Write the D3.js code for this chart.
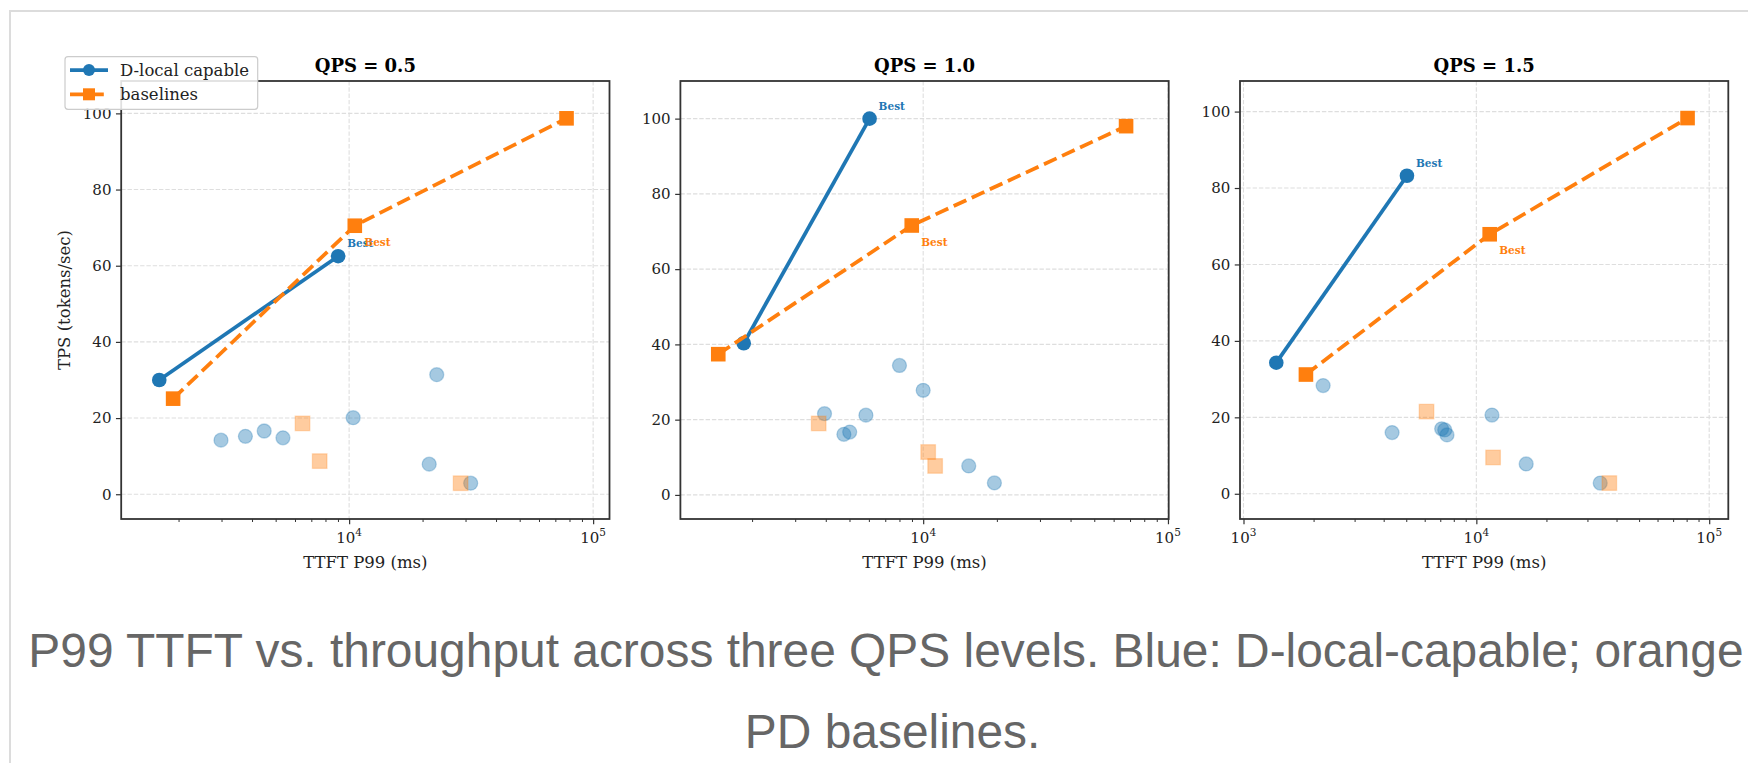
<!DOCTYPE html>
<html><head><meta charset="utf-8">
<script src="https://cdn.jsdelivr.net/npm/d3@7"></script>
<style>html,body{margin:0;padding:0;background:#fff;overflow:hidden} svg{display:block}</style>
</head><body>
<svg id="chart" width="1748" height="763"></svg>
<script>
// ---------- data ----------
const panelTitles = ["QPS = 0.5", "QPS = 1.0", "QPS = 1.5"];
// D-local capable frontier (TTFT P99 ms, TPS)
const dlocalTTFT = [[1667, 9015], [1849, 6040], [1383, 5035]];
const dlocalTPS  = [[30.0, 62.5], [40.3, 100.0], [34.3, 83.2]];
const dlocalBest = [1, 1, 1];
// baselines frontier
const baseTTFT = [[1900, 10550, 77800], [1455, 8980, 67430], [1854, 11410, 80740]];
const baseTPS  = [[25.1, 70.5, 98.7], [37.4, 71.6, 98.0], [31.2, 67.9, 98.3]];
const baseBest = [1, 1, 1];
// other (non-frontier) D-local capable configs
const otherDTTFT = [[2985, 3758, 4487, 5356, 10390, 22860, 21290, 31490],
                    [3953, 4743, 5010, 5835, 8000, 10000, 15350, 19540],
                    [2198, 4347, 7097, 7316, 7480, 11670, 16370, 34040]];
const otherDTPS  = [[14.2, 15.2, 16.6, 14.8, 20.1, 31.4, 7.9, 2.9],
                    [21.6, 16.1, 16.7, 21.2, 34.4, 27.8, 7.7, 3.2],
                    [28.3, 16.0, 17.0, 16.7, 15.4, 20.6, 7.8, 2.8]];
// other (non-frontier) baseline configs
const otherBTTFT = [[6443, 7576, 28640], [3743, 10480, 11190], [6110, 11800, 37240]];
const otherBTPS  = [[18.6, 8.7, 2.9], [19.0, 11.4, 7.7], [21.5, 9.5, 2.8]];
// axis settings
const xDomains = [[1164, 116700], [1019, 100700], [966, 120800]];
const yDomains = [[-6.5, 108.5], [-6.4, 110], [-6.6, 108]];
const yTicks = [0, 20, 40, 60, 80, 100];
const xMajorExps = [3, 4, 5];
const xLabel = "TTFT P99 (ms)";
const yLabel = "TPS (tokens/sec)";
const legendLabels = ["D-local capable", "baselines"];
const bestLabel = "Best";
const captionLines = ["P99 TTFT vs. throughput across three QPS levels. Blue: D-local-capable; orange:",
                      "PD baselines."];

// ---------- layout / style ----------
const BLUE = "#1f77b4", ORANGE = "#ff7f0e";
const SERIF = "'DejaVu Serif', serif";
const panelLeft = [121.2, 680.4, 1240];
const PW = 488.3, TOP = 81, BOTTOM = 519;

const svg = d3.select("#chart");
svg.append("defs").append("clipPath").attr("id", "capclip")
  .append("rect").attr("x", 0).attr("y", 0).attr("width", 1745).attr("height", 763);

// outer frame
svg.append("rect").attr("x", 10).attr("y", 11).attr("width", 1800).attr("height", 800)
  .attr("fill", "none").attr("stroke", "#dcdcdc").attr("stroke-width", 2);

panelTitles.forEach((title, i) => {
  const L = panelLeft[i];
  const x = d3.scaleLog().domain(xDomains[i]).range([L, L + PW]);
  const y = d3.scaleLinear().domain(yDomains[i]).range([BOTTOM, TOP]);
  const g = svg.append("g");
  const [x0, x1] = xDomains[i];
  const majors = xMajorExps.map(e => Math.pow(10, e)).filter(v => v >= x0 && v <= x1);
  const minors = [];
  [2, 3, 4].forEach(e => { for (let m = 2; m <= 9; m++) { const v = m * Math.pow(10, e); if (v >= x0 && v <= x1) minors.push(v); } });

  // grid
  const grid = g.append("g").attr("stroke", "#dedede").attr("stroke-width", 1.1).attr("stroke-dasharray", "4.4,1.9");
  grid.selectAll(".vg").data(majors).join("line")
    .attr("x1", d => x(d)).attr("x2", d => x(d)).attr("y1", TOP).attr("y2", BOTTOM);
  grid.selectAll(".hg").data(yTicks).join("line")
    .attr("x1", L).attr("x2", L + PW).attr("y1", d => y(d)).attr("y2", d => y(d));

  // faded other configs
  const dOther = otherDTTFT[i].map((t, k) => ({ t, v: otherDTPS[i][k] }));
  const bOther = otherBTTFT[i].map((t, k) => ({ t, v: otherBTPS[i][k] }));
  g.append("g").selectAll("circle").data(dOther).join("circle")
    .attr("cx", d => x(d.t)).attr("cy", d => y(d.v)).attr("r", 7)
    .attr("fill", BLUE).attr("fill-opacity", 0.4)
    .attr("stroke", BLUE).attr("stroke-opacity", 0.3).attr("stroke-width", 1.3);
  g.append("g").selectAll("rect").data(bOther).join("rect")
    .attr("x", d => x(d.t) - 7.3).attr("y", d => y(d.v) - 7.3).attr("width", 14.6).attr("height", 14.6)
    .attr("fill", ORANGE).attr("fill-opacity", 0.4)
    .attr("stroke", ORANGE).attr("stroke-opacity", 0.25).attr("stroke-width", 1.3);

  // frontier lines
  const dPts = dlocalTTFT[i].map((t, k) => ({ t, v: dlocalTPS[i][k] }));
  const bPts = baseTTFT[i].map((t, k) => ({ t, v: baseTPS[i][k] }));
  const line = d3.line().x(d => x(d.t)).y(d => y(d.v));
  g.append("path").datum(dPts).attr("d", line).attr("fill", "none")
    .attr("stroke", BLUE).attr("stroke-width", 3.75).attr("stroke-linecap", "butt");
  g.append("g").selectAll("circle").data(dPts).join("circle")
    .attr("cx", d => x(d.t)).attr("cy", d => y(d.v)).attr("r", 7.3).attr("fill", BLUE);
  g.append("path").datum(bPts).attr("d", line).attr("fill", "none")
    .attr("stroke", ORANGE).attr("stroke-width", 3.75).attr("stroke-dasharray", "13.9,6");
  g.append("g").selectAll("rect").data(bPts).join("rect")
    .attr("x", d => x(d.t) - 7.3).attr("y", d => y(d.v) - 7.3).attr("width", 14.6).attr("height", 14.6)
    .attr("fill", ORANGE);

  // Best labels
  const db = dPts[dlocalBest[i]], bb = bPts[baseBest[i]];
  g.append("text").attr("x", x(db.t) + 9).attr("y", y(db.v) - 8.8).text(bestLabel)
    .attr("font-family", SERIF).attr("font-weight", "bold").attr("font-size", 10.5).attr("fill", BLUE);
  g.append("text").attr("x", x(bb.t) + 9.5).attr("y", y(bb.v) + 20.2).text(bestLabel)
    .attr("font-family", SERIF).attr("font-weight", "bold").attr("font-size", 10.5).attr("fill", ORANGE);

  // y axis
  const ya = g.append("g").attr("transform", `translate(${L},0)`)
    .call(d3.axisLeft(y).tickValues(yTicks).tickSize(5.25).tickPadding(4.5).tickFormat(d3.format("d")));
  ya.select(".domain").remove();
  ya.selectAll(".tick line").attr("stroke", "#333").attr("stroke-width", 1.2);
  ya.selectAll(".tick text").attr("font-family", SERIF).attr("font-size", 15).attr("fill", "#222");

  // x axis (major + minor)
  const xa = g.append("g").attr("transform", `translate(0,${BOTTOM})`)
    .call(d3.axisBottom(x).tickValues(majors).tickSize(5.25).tickFormat(() => ""));
  xa.select(".domain").remove();
  xa.selectAll(".tick line").attr("stroke", "#333").attr("stroke-width", 1.2);
  const xm = g.append("g").attr("transform", `translate(0,${BOTTOM})`)
    .call(d3.axisBottom(x).tickValues(minors).tickSize(3).tickFormat(() => ""));
  xm.select(".domain").remove();
  xm.selectAll(".tick line").attr("stroke", "#333").attr("stroke-width", 1);
  majors.forEach(v => {
    const t = g.append("text").attr("x", x(v)).attr("y", 543).attr("text-anchor", "middle")
      .attr("font-family", SERIF).attr("font-size", 15).attr("fill", "#222");
    t.append("tspan").text("10");
    t.append("tspan").attr("dy", -7.5).attr("font-size", 10.5).text(String(Math.round(Math.log10(v))));
  });

  // spines
  g.append("rect").attr("x", L).attr("y", TOP).attr("width", PW).attr("height", BOTTOM - TOP)
    .attr("fill", "none").attr("stroke", "#333").attr("stroke-width", 1.8);

  // title & labels
  g.append("text").attr("x", L + PW / 2).attr("y", 71.5).attr("text-anchor", "middle")
    .attr("font-family", SERIF).attr("font-weight", "bold").attr("font-size", 18).attr("fill", "#000").text(title);
  g.append("text").attr("x", L + PW / 2).attr("y", 568).attr("text-anchor", "middle")
    .attr("font-family", SERIF).attr("font-size", 16.5).attr("fill", "#222").text(xLabel);
  if (i === 0) {
    g.append("text").attr("transform", `translate(70,${(TOP + BOTTOM) / 2}) rotate(-90)`)
      .attr("text-anchor", "middle").attr("font-family", SERIF).attr("font-size", 16.5).attr("fill", "#222").text(yLabel);
  }
});

// legend
const lg = svg.append("g");
lg.append("rect").attr("x", 65).attr("y", 56.7).attr("width", 192.7).attr("height", 52.6).attr("rx", 3)
  .attr("fill", "#fff").attr("fill-opacity", 0.85).attr("stroke", "#cccccc").attr("stroke-width", 1.2);
const legY = [70, 94.3];
lg.append("line").attr("x1", 70).attr("x2", 108).attr("y1", legY[0]).attr("y2", legY[0])
  .attr("stroke", BLUE).attr("stroke-width", 3.75);
lg.append("circle").attr("cx", 89).attr("cy", legY[0]).attr("r", 6).attr("fill", BLUE);
lg.append("line").attr("x1", 70).attr("x2", 108).attr("y1", legY[1]).attr("y2", legY[1])
  .attr("stroke", ORANGE).attr("stroke-width", 3.75).attr("stroke-dasharray", "13.9,6");
lg.append("rect").attr("x", 83).attr("y", legY[1] - 6).attr("width", 12).attr("height", 12).attr("fill", ORANGE);
legendLabels.forEach((s, k) => {
  lg.append("text").attr("x", 120).attr("y", legY[k] + 5.6).attr("font-family", SERIF)
    .attr("font-size", 16.5).attr("fill", "#222").text(s);
});

// caption
const cap = svg.append("g").attr("clip-path", "url(#capclip)");
captionLines.forEach((s, k) => {
  cap.append("text").attr("x", 892.6).attr("y", [667, 748][k]).attr("text-anchor", "middle")
    .attr("font-family", "'Liberation Sans', Arial, sans-serif").attr("font-size", 47.9)
    .attr("fill", "#666").text(s);
});
</script>
</body></html>
